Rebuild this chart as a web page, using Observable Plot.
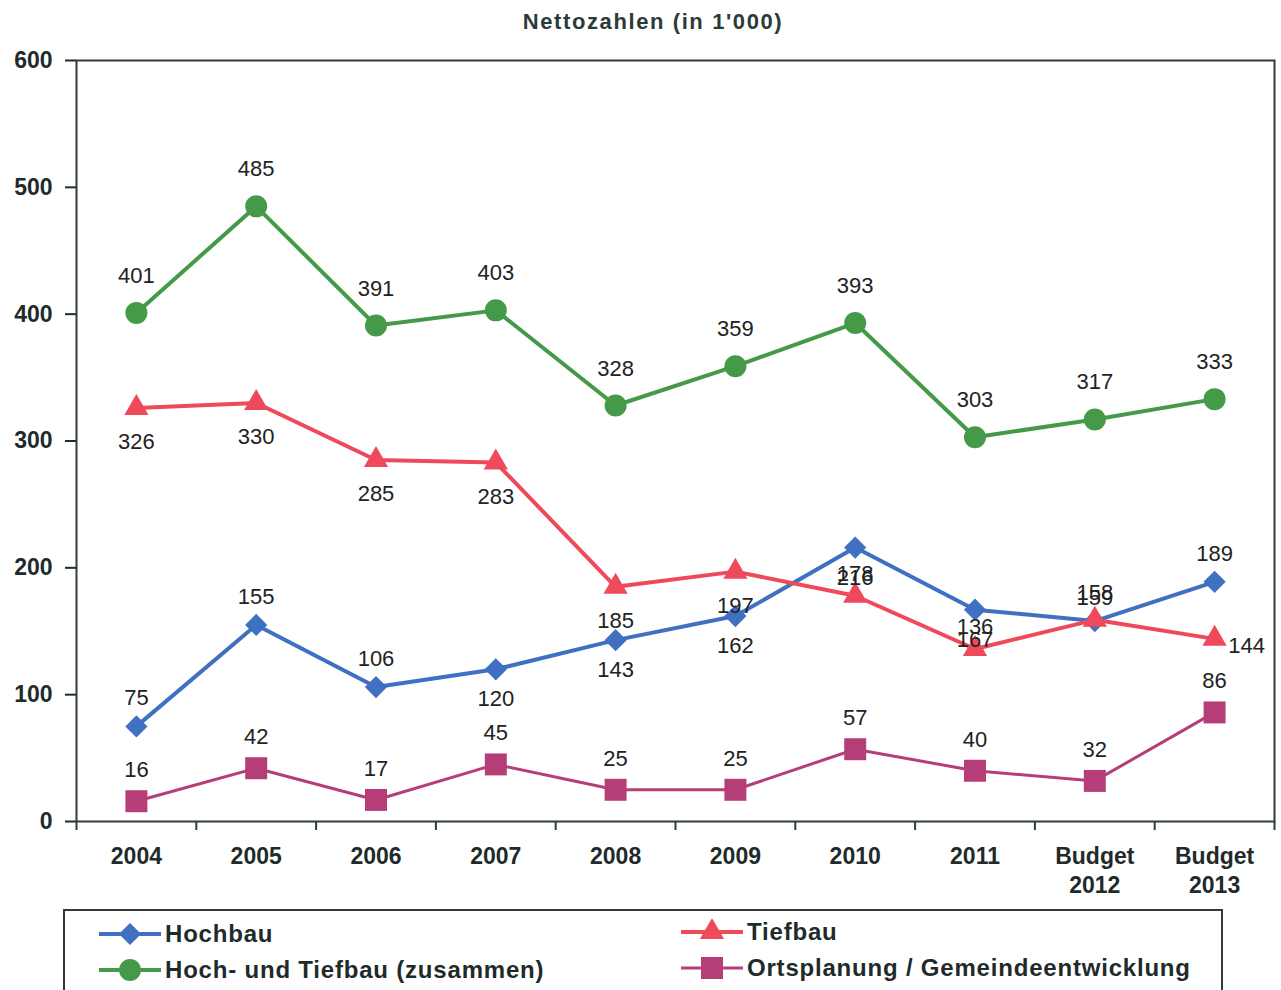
<!DOCTYPE html>
<html><head><meta charset="utf-8">
<script src="https://cdn.jsdelivr.net/npm/d3@7"></script>
<script src="https://cdn.jsdelivr.net/npm/@observablehq/plot@0.6"></script>
<style>
body{margin:0;background:#fff;font-family:"Liberation Sans",Arial,sans-serif;}
#wrap{position:relative;width:1281px;height:990px;overflow:hidden;background:#fff;}
#title{position:absolute;left:353px;width:600px;top:6px;text-align:center;font-size:22px;font-weight:bold;letter-spacing:1.6px;color:#2a3b3b;line-height:32px;}
#chart{position:absolute;left:0;top:40px;}
#legend{position:absolute;left:63px;top:909px;width:1160px;height:100px;border:2px solid #2f3d3d;box-sizing:border-box;}
.item{position:absolute;display:flex;align-items:center;height:30px;font-size:24px;font-weight:bold;letter-spacing:0.8px;color:#1f2b2b;white-space:nowrap;}
.item svg{margin-right:4px;}
</style></head><body>
<div id="wrap"><div id="title">Nettozahlen (in 1'000)</div><div id="chart"></div><div id="legend"></div></div>
<script>
// ---- data ----
const categories = ["2004","2005","2006","2007","2008","2009","2010","2011","Budget 2012","Budget 2013"];
const yTicks = [0,100,200,300,400,500,600];
const seriesNames = ["Hochbau","Tiefbau","Hoch- und Tiefbau (zusammen)","Ortsplanung / Gemeindeentwicklung"];
const hochbau     = [75,155,106,120,143,162,216,167,158,189];
const tiefbau     = [326,330,285,283,185,197,178,136,159,144];
const hochTiefbau = [401,485,391,403,328,359,393,303,317,333];
const ortsplanung = [16,42,17,45,25,25,57,40,32,86];
// label placement relative to its point
const hochbauLabelPos     = ["above","above","above","below","below","below","below","below","above","above"];
const tiefbauLabelPos     = ["below","below","below","below","below","below","above","above","above","right"];
const hochTiefbauLabelPos = Array(10).fill("above");
const ortsplanungLabelPos = Array(10).fill("above");

// ---- styles ----
const series = [
  {name: seriesNames[0], values: hochbau, pos: hochbauLabelPos, color: "#3f70c2", symbol: "diamond2", r: 10, sw: 4, above: -28, below: 30},
  {name: seriesNames[1], values: tiefbau, pos: tiefbauLabelPos, color: "#ee4a5c", symbol: "triangle", r: 9, sw: 4, above: -22, below: 34},
  {name: seriesNames[2], values: hochTiefbau, pos: hochTiefbauLabelPos, color: "#449a48", symbol: "circle", r: 11, sw: 4, above: -37, below: 34},
  {name: seriesNames[3], values: ortsplanung, pos: ortsplanungLabelPos, color: "#b53e79", symbol: "square", r: 12.4, sw: 3, above: -31, below: 30}
];

const rows = series.flatMap(s => s.values.map((v, i) => ({series: s.name, cat: categories[i], value: v, pos: s.pos[i]})));

const W = 1281, H = 865, mL = 76, mR = 7, mT = 20, mB = 84;
const step = (W - mL - mR) / categories.length;
const axisColor = "#2f3d3d";
const textColor = "#1f2b2b";

const marks = [
  Plot.frame({stroke: axisColor, strokeWidth: 2}),
  Plot.axisY({ticks: yTicks, tickSize: 11, tickPadding: 13, fontSize: 23, fontWeight: "bold", color: textColor, strokeWidth: 2, label: null}),
  Plot.axisX({tickSize: 0, tickPadding: 22, fontSize: 23, fontWeight: "bold", lineHeight: 1.25, color: textColor, tickFormat: d => d.replace(" ", "\n"), label: null}),
  Plot.ruleX(categories, {x: d => d, y1: 0, y2: 0, dx: -step / 2, insetTop: 9, stroke: axisColor, strokeWidth: 2}),
  Plot.ruleX([categories[categories.length - 1]], {x: d => d, y1: 0, y2: 0, dx: step / 2, insetTop: 9, stroke: axisColor, strokeWidth: 2})
];

for (const s of series) {
  const d = rows.filter(r => r.series === s.name);
  marks.push(Plot.line(d, {x: "cat", y: "value", stroke: s.color, strokeWidth: s.sw, strokeLinejoin: "round"}));
  marks.push(Plot.dot(d, {x: "cat", y: "value", symbol: s.symbol, r: s.r, fill: s.color, stroke: "none"}));
}
for (const s of series) {
  const d = rows.filter(r => r.series === s.name);
  const common = {x: "cat", y: "value", text: r => String(r.value), fontSize: 22, fill: "#222", lineAnchor: "middle"};
  marks.push(Plot.text(d.filter(r => r.pos === "above"), {...common, dy: s.above}));
  marks.push(Plot.text(d.filter(r => r.pos === "below"), {...common, dy: s.below}));
  marks.push(Plot.text(d.filter(r => r.pos === "right"), {...common, dx: 32, dy: 7}));
}

const chart = Plot.plot({
  width: W, height: H,
  marginLeft: mL, marginRight: mR, marginTop: mT, marginBottom: mB,
  style: {fontFamily: "'Liberation Sans', Arial, sans-serif", background: "transparent", overflow: "visible"},
  x: {type: "point", domain: categories, padding: 0.5, round: false},
  y: {domain: [0, 600]},
  marks
});
document.getElementById("chart").appendChild(chart);

// ---- legend ----
const legend = document.getElementById("legend");
const legendPos = [[34, 8], [34, 44], [616, 6], [616, 42]]; // Hochbau, Hoch-Tief, Tiefbau, Ortsplanung
const order = [0, 2, 1, 3];
order.forEach((si, k) => {
  const s = series[si];
  const item = document.createElement("div");
  item.className = "item";
  item.style.left = legendPos[k][0] + "px";
  item.style.top = legendPos[k][1] + "px";
  const sym = d3.symbol(({diamond2: d3.symbolDiamond2, triangle: d3.symbolTriangle, circle: d3.symbolCircle, square: d3.symbolSquare})[s.symbol], Math.PI * s.r * s.r)();
  item.innerHTML = `<svg width="62" height="26"><line x1="0" x2="62" y1="13" y2="13" stroke="${s.color}" stroke-width="${s.sw}"/><path d="${sym}" transform="translate(31,13)" fill="${s.color}"/></svg><span>${s.name}</span>`;
  legend.appendChild(item);
});
</script>
</body></html>
